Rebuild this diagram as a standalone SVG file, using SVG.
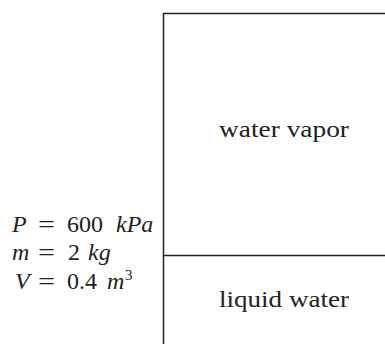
<svg xmlns="http://www.w3.org/2000/svg" width="385" height="346" viewBox="0 0 385 346">
<style>
.ln{stroke:#222;stroke-width:1.5;fill:none}
.t{font-family:'Liberation Serif','DejaVu Serif','Times New Roman',serif;font-size:24px;fill:#222}
.i{font-style:italic}
.sup{font-size:15px}
</style>
<rect width="385" height="346" fill="#fff"/>
<g id="tank">
<polyline class="ln" points="163.5,344 163.5,13.5 385,13.5"/>
<line class="ln" x1="163.5" y1="255.5" x2="385" y2="255.5"/>
</g>
<g id="vapor">
<text class="t" x="219" y="137" textLength="130" lengthAdjust="spacingAndGlyphs">water vapor</text>
</g>
<g id="liquid">
<text class="t" x="219" y="307" textLength="130" lengthAdjust="spacingAndGlyphs">liquid water</text>
</g>
<g id="properties">
<text class="t i" x="12" y="231.5">P</text>
<text class="t" x="38" y="231.5" textLength="17" lengthAdjust="spacingAndGlyphs">=</text>
<text class="t" x="67" y="231.5">600</text>
<text class="t i" x="116" y="231.5">kPa</text>
<text class="t i" x="12" y="260">m</text>
<text class="t" x="38" y="260" textLength="17" lengthAdjust="spacingAndGlyphs">=</text>
<text class="t" x="68" y="260">2</text>
<text class="t i" x="88" y="260">kg</text>
<text class="t i" x="15" y="289">V</text>
<text class="t" x="38" y="289" textLength="17" lengthAdjust="spacingAndGlyphs">=</text>
<text class="t" x="67" y="289">0.4</text>
<text class="t i" x="107" y="289">m</text>
<text class="t sup" x="125" y="280">3</text>
</g>
</svg>
